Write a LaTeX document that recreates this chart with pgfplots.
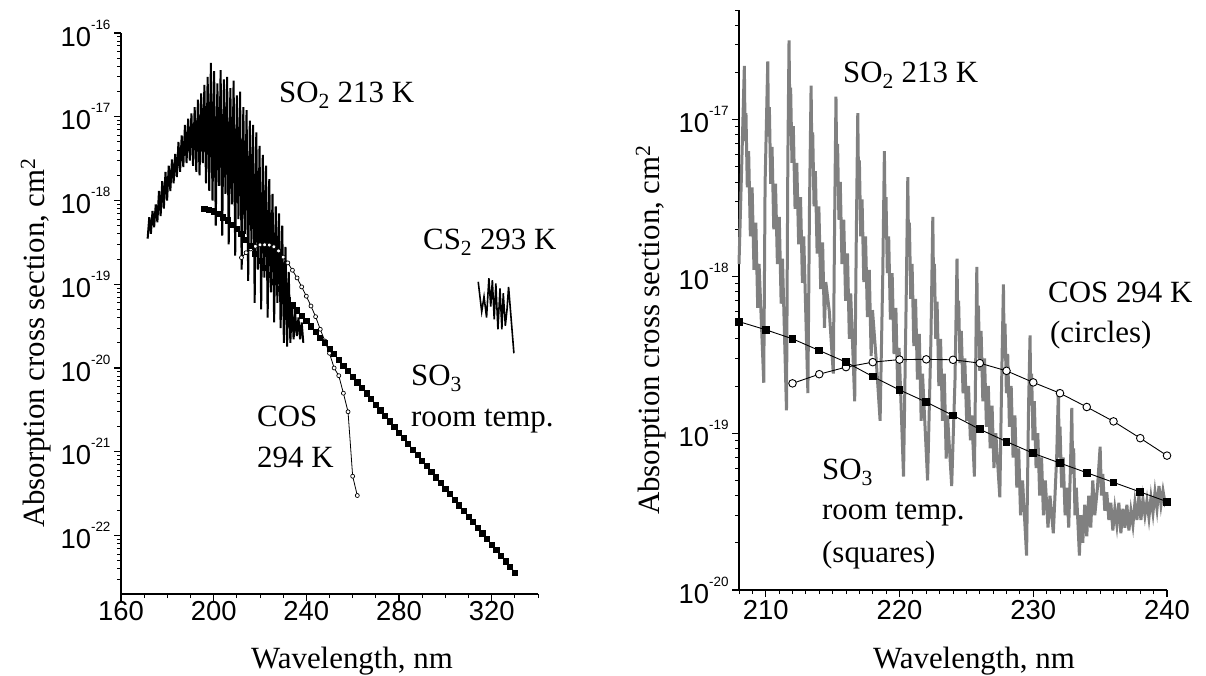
\documentclass[border=0pt]{standalone}
\usepackage{fontspec}
\setmainfont{Liberation Serif}
\newfontfamily\arialf{Liberation Sans}
\usepackage{pgfplots}
\usepackage{pgfplotstable}
\pgfplotsset{compat=1.18}
\newcommand{\annot}{\fontsize{31}{43}\selectfont}
\newcommand{\tickf}{\arialf\fontsize{27.5}{27.5}\selectfont}
\newcommand{\tp}[1]{10\raisebox{17bp}{\fontsize{13.5}{13.5}\selectfont #1}}
\definecolor{sogray}{RGB}{128,128,128}

\pgfplotsset{
  mypanel/.style={
    scale only axis, clip=false,
    axis x line*=bottom, axis y line*=left,
    axis line style={-, line width=1.4bp, black},
    tick align=outside,
    major tick length=7bp, minor tick length=4bp,
    every tick/.style={black, line width=1.2bp},
    every minor tick/.style={black, line width=1bp},
    tick label style={font=\tickf},
  }
}

\pgfplotstableread{
x y
196 8.0e-19
198 7.8e-19
200 7.4e-19
202 6.9e-19
204 6.3e-19
206 5.8e-19
208 5.15e-19
210 4.57e-19
212 4.0e-19
214 3.37e-19
216 2.84e-19
218 2.30e-19
220 1.89e-19
222 1.58e-19
224 1.30e-19
226 1.06e-19
228 8.84e-20
230 7.45e-20
232 6.45e-20
234 5.6e-20
236 4.86e-20
238 4.22e-20
240 3.66e-20
242 3.14e-20
244 2.69e-20
246 2.31e-20
248 1.98e-20
250 1.70e-20
252 1.46e-20
254 1.25e-20
256 1.07e-20
258 9.17e-21
260 7.86e-21
262 6.74e-21
264 5.78e-21
266 4.96e-21
268 4.25e-21
270 3.64e-21
272 3.12e-21
274 2.68e-21
276 2.30e-21
278 1.97e-21
280 1.69e-21
282 1.45e-21
284 1.24e-21
286 1.06e-21
288 9.12e-22
290 7.83e-22
292 6.71e-22
294 5.75e-22
296 4.93e-22
298 4.23e-22
300 3.63e-22
302 3.11e-22
304 2.67e-22
306 2.29e-22
308 1.96e-22
310 1.68e-22
312 1.44e-22
314 1.24e-22
316 1.06e-22
318 9.08e-23
320 7.79e-23
322 6.68e-23
324 5.73e-23
326 4.91e-23
328 4.21e-23
330 3.61e-23
}\sothreedata

\pgfplotstableread{
x y
212 2.08e-19
214 2.38e-19
216 2.64e-19
218 2.84e-19
220 2.95e-19
222 2.96e-19
224 2.94e-19
226 2.80e-19
228 2.50e-19
230 2.11e-19
232 1.80e-19
234 1.47e-19
236 1.19e-19
238 9.3e-20
240 7.2e-20
242 5.5e-20
244 4.1e-20
246 2.9e-20
248 2.1e-20
250 1.5e-20
252 1.0e-20
254 8.1e-21
256 5.0e-21
258 3.0e-21
260 5.1e-22
262 3.0e-22
}\cosdata

\pgfplotstableread{
x y
171.5 3.5e-19
172.2 6.3e-19
172.9 4.0e-19
173.6 7.5e-19
174.3 4.8e-19
175.0 9.0e-19
175.7 5.5e-19
176.4 1.3e-18
177.1 6.5e-19
177.8 1.7e-18
178.5 8.0e-19
179.2 2.2e-18
179.9 1.0e-18
180.6 2.6e-18
181.3 1.3e-18
182.0 3.1e-18
182.7 1.6e-18
183.4 3.6e-18
184.1 1.9e-18
184.8 5.0e-18
185.5 2.2e-18
186.2 6.0e-18
186.9 2.5e-18
187.6 8.0e-18
188.3 2.8e-18
189.0 9.5e-18
189.7 3.0e-18
190.4 1.1e-17
191.1 2.6e-18
191.8 1.3e-17
192.5 2.2e-18
193.2 1.6e-17
193.9 2.0e-18
194.6 1.9e-17
195.3 2.8e-18
196.0 2.4e-17
196.7 1.6e-18
197.4 3.0e-17
198.1 1.3e-18
198.8 4.4e-17
199.5 1.0e-18
200.2 3.5e-17
200.9 5.0e-19
201.6 2.5e-17
202.3 1.5e-18
203.0 3.6e-17
203.7 3.8e-19
204.4 2.8e-17
205.1 1.2e-18
205.8 3.0e-17
206.5 3.0e-19
207.2 2.2e-17
207.9 9.0e-19
208.6 2.7e-17
209.3 2.2e-19
210.0 1.8e-17
210.7 6.0e-19
211.4 2.0e-17
212.1 1.5e-19
212.8 1.3e-17
213.5 4.0e-19
214.2 1.2e-17
214.9 1.1e-19
215.6 9.0e-18
216.3 3.0e-19
217.0 8.0e-18
217.7 6.0e-20
218.4 6.5e-18
219.1 1.5e-19
219.8 4.5e-18
220.5 5.0e-20
221.2 3.5e-18
221.9 1.2e-19
222.6 2.6e-18
223.3 4.0e-20
224.0 1.8e-18
224.7 8.0e-20
225.4 1.2e-18
226.1 3.5e-20
226.8 8.5e-19
227.5 6.0e-20
228.2 7.0e-19
228.9 3.0e-20
229.6 5.0e-19
230.3 2.0e-20
231.0 2.8e-19
231.7 1.8e-20
232.4 1.4e-19
233.1 2.0e-20
233.8 6.0e-20
234.5 2.2e-20
235.2 4.5e-20
235.9 2.4e-20
236.6 4.0e-20
237.3 2.2e-20
238.0 3.5e-20
238.7 2.0e-20
}\sotwoleft

\pgfplotstableread{
x y
314.2 1.07e-19
315.7 4.7e-20
316.7 7.1e-20
317.8 4.0e-20
318.8 1.18e-19
319.6 5.4e-20
320.3 1.12e-19
321.1 3.8e-20
321.8 1.02e-19
322.7 2.9e-20
323.6 8.9e-20
324.4 2.9e-20
325.0 7.8e-20
325.9 3.2e-20
326.6 4.9e-20
327.3 9.3e-20
329.6 1.5e-20
}\cstwodata

\pgfplotstableread{
x y
208.00 1.2e-18
208.20 5.0e-18
208.40 2.2e-17
208.46 7.3e-18
208.52 1.1e-17
208.62 3.7e-18
208.72 6.3e-18
208.85 1.8e-18
208.98 3.7e-18
209.12 1.1e-18
209.26 2.2e-18
209.40 6.3e-19
209.50 1.2e-18
209.85 2.1e-19
209.95 3.9e-18
210.15 2.35e-17
210.21 7.8e-18
210.27 1.2e-17
210.37 3.9e-18
210.47 6.7e-18
210.60 2.0e-18
210.73 3.9e-18
210.87 1.2e-18
211.01 2.4e-18
211.15 6.7e-19
211.25 1.3e-18
211.55 1.4e-19
211.65 5.3e-18
211.74 3.2e-17
211.80 1.07e-17
211.86 1.6e-17
211.96 5.3e-18
212.06 9.1e-18
212.19 2.7e-18
212.32 5.3e-18
212.46 1.6e-18
212.60 3.2e-18
212.74 9.1e-19
212.84 1.8e-18
213.15 1.8e-19
213.27 2.8e-18
213.39 1.65e-17
213.45 5.5e-18
213.51 8.3e-18
213.61 2.8e-18
213.71 4.7e-18
213.84 1.4e-18
213.97 2.8e-18
214.11 8.3e-19
214.25 1.65e-18
214.39 4.7e-19
214.49 9.2e-19
214.75 6.0e-19
215.05 2.4e-19
215.15 2.3e-18
215.25 1.4e-17
215.31 4.7e-18
215.37 7.0e-18
215.47 2.3e-18
215.57 4.0e-18
215.70 1.2e-18
215.83 2.3e-18
215.97 7.0e-19
216.11 1.4e-18
216.25 4.0e-19
216.35 7.8e-19
216.65 1.6e-19
216.77 1.8e-18
216.88 1.1e-17
216.94 3.7e-18
217.00 5.5e-18
217.10 1.8e-18
217.20 3.1e-18
217.33 9.2e-19
217.46 1.8e-18
217.60 5.5e-19
217.74 1.1e-18
217.88 3.1e-19
217.98 6.1e-19
218.25 3.0e-19
218.55 1.2e-19
218.75 1.05e-18
218.87 6.3e-18
218.93 2.1e-18
218.99 3.2e-18
219.09 1.05e-18
219.19 1.8e-18
219.32 5.3e-19
219.45 1.05e-18
219.59 3.2e-19
219.73 6.3e-19
219.87 1.8e-19
219.97 3.5e-19
220.30 5.3e-20
220.50 7.2e-19
220.62 4.3e-18
220.68 1.4e-18
220.74 2.2e-18
220.84 7.2e-19
220.94 1.2e-18
221.07 3.6e-19
221.20 7.2e-19
221.34 2.2e-19
221.48 4.3e-19
221.62 1.2e-19
221.72 2.4e-19
222.10 5.0e-20
222.35 4.0e-19
222.49 2.4e-18
222.55 8.0e-19
222.61 1.2e-18
222.71 4.0e-19
222.81 6.9e-19
222.94 2.0e-19
223.07 4.0e-19
223.21 1.2e-19
223.35 2.4e-19
223.49 6.9e-20
223.59 1.3e-19
223.90 4.6e-20
224.15 2.2e-19
224.30 1.3e-18
224.36 4.5e-19
224.42 7.0e-19
224.52 2.8e-19
224.62 4.5e-19
224.75 1.8e-19
224.88 3.0e-19
225.02 1.2e-19
225.16 2.0e-19
225.30 9.0e-20
225.40 1.3e-19
225.60 5.3e-20
225.70 3.0e-19
225.78 1.15e-18
225.84 4.0e-19
225.90 6.5e-19
226.00 2.5e-19
226.10 4.5e-19
226.23 1.6e-19
226.36 3.0e-19
226.50 1.1e-19
226.64 2.0e-19
226.78 8.0e-20
226.92 1.5e-19
227.06 6.0e-20
227.20 1.0e-19
227.50 3.9e-20
227.65 2.5e-19
227.77 8.9e-19
227.83 3.0e-19
227.89 5.0e-19
227.99 1.8e-19
228.09 3.2e-19
228.22 1.1e-19
228.35 2.0e-19
228.49 7.0e-20
228.63 1.3e-19
228.77 4.5e-20
228.91 8.0e-20
229.05 3.0e-20
229.20 5.0e-20
229.50 1.66e-20
229.65 1.5e-19
229.76 4.2e-19
229.82 1.5e-19
229.88 2.4e-19
229.98 9.0e-20
230.08 1.6e-19
230.21 6.0e-20
230.34 1.0e-19
230.48 4.0e-20
230.62 7.0e-20
230.76 3.0e-20
230.90 5.0e-20
231.10 2.5e-20
231.25 4.0e-20
231.50 2.3e-20
231.75 7.0e-20
231.88 1.9e-19
231.94 7.0e-20
232.00 1.1e-19
232.12 4.5e-20
232.24 7.0e-20
232.38 3.0e-20
232.52 4.5e-20
232.65 2.5e-20
232.78 6.0e-20
232.88 1.45e-19
232.95 5.5e-20
233.02 8.0e-20
233.12 3.0e-20
233.22 4.5e-20
233.45 1.66e-20
233.55 3.0e-20
233.70 2.0e-20
233.85 3.5e-20
234.00 2.2e-20
234.15 4.0e-20
234.30 2.5e-20
234.45 5.0e-20
234.60 3.0e-20
234.80 4.5e-20
235.00 8.2e-20
235.10 4.0e-20
235.20 5.5e-20
235.35 3.2e-20
235.50 4.2e-20
235.65 2.8e-20
235.80 3.6e-20
235.95 2.4e-20
236.10 3.3e-20
236.25 2.6e-20
236.40 3.6e-20
236.55 2.3e-20
236.70 3.3e-20
236.85 2.5e-20
237.00 3.5e-20
237.15 2.4e-20
237.30 3.2e-20
237.45 2.6e-20
237.60 3.6e-20
237.75 2.8e-20
237.90 4.0e-20
238.05 2.8e-20
238.20 3.8e-20
238.35 3.0e-20
238.50 3.7e-20
238.65 2.9e-20
238.80 3.9e-20
238.95 3.1e-20
239.10 4.2e-20
239.25 3.3e-20
239.40 4.6e-20
239.55 3.5e-20
239.70 4.3e-20
239.85 3.6e-20
240.00 3.8e-20
}\sotworight

\begin{document}
\begin{tikzpicture}
\useasboundingbox (0,0) rectangle (1206bp,676bp);
% ---------------- left panel ----------------
\begin{axis}[mypanel, ymode=log,
  at={(121bp,82bp)}, anchor=south west,
  width=417bp, height=561bp,
  xmin=160, xmax=340, ymin=2e-23, ymax=1e-16,
  xtick={160,200,240,280,320},
  xticklabels={160,200,240,280,320},
  xticklabel style={yshift=3bp},
  minor xtick={170,180,190,210,220,230,250,260,270,290,300,310,330,340},
  ytick={1e-22,1e-21,1e-20,1e-19,1e-18,1e-17,1e-16},
  yticklabels={\tp{-22},\tp{-21},\tp{-20},\tp{-19},\tp{-18},\tp{-17},\tp{-16}},
  minor ytick={3e-23,4e-23,5e-23,6e-23,7e-23,8e-23,9e-23,
    2e-22,3e-22,4e-22,5e-22,6e-22,7e-22,8e-22,9e-22,
    2e-21,3e-21,4e-21,5e-21,6e-21,7e-21,8e-21,9e-21,
    2e-20,3e-20,4e-20,5e-20,6e-20,7e-20,8e-20,9e-20,
    2e-19,3e-19,4e-19,5e-19,6e-19,7e-19,8e-19,9e-19,
    2e-18,3e-18,4e-18,5e-18,6e-18,7e-18,8e-18,9e-18,
    2e-17,3e-17,4e-17,5e-17,6e-17,7e-17,8e-17,9e-17},
]
\addplot[black, line width=0.8bp, mark=*, mark size=2bp, mark options={fill=white, line width=0.7bp}] table[x=x,y=y] {\cosdata};
\addplot[black, line width=0.8bp, mark=square*, mark size=2.6bp, mark options={fill=black}] table[x=x,y=y] {\sothreedata};
\addplot[black, line width=2bp] table[x=x,y=y] {\sotwoleft};
\addplot[black, line width=1.6bp] table[x=x,y=y] {\cstwodata};
\end{axis}
% ---------------- right panel ----------------
\begin{axis}[mypanel, ymode=log,
  at={(739bp,86bp)}, anchor=south west,
  width=428bp, height=580bp,
  xmin=208, xmax=240, ymin=1e-20, ymax=5e-17,
  xtick={210,220,230,240},
  xticklabels={210,220,230,240},
  minor xtick={208,209,211,212,213,214,215,216,217,218,219,221,222,223,224,225,226,227,228,229,231,232,233,234,235,236,237,238,239},
  ytick={1e-20,1e-19,1e-18,1e-17},
  yticklabels={\tp{-20},\tp{-19},\tp{-18},\tp{-17}},
  minor ytick={2e-20,3e-20,4e-20,5e-20,6e-20,7e-20,8e-20,9e-20,
    2e-19,3e-19,4e-19,5e-19,6e-19,7e-19,8e-19,9e-19,
    2e-18,3e-18,4e-18,5e-18,6e-18,7e-18,8e-18,9e-18,
    2e-17,3e-17,4e-17,5e-17},
]
\addplot[sogray, line width=3bp] table[x=x,y=y] {\sotworight};
\addplot[black, line width=0.9bp, mark=*, mark size=3.8bp, mark options={fill=white, line width=0.9bp}, restrict x to domain=208:240] table[x=x,y=y] {\cosdata};
\addplot[black, line width=0.9bp, mark=square*, mark size=3.4bp, mark options={fill=black}, restrict x to domain=208:240] table[x=x,y=y] {\sothreedata};
\end{axis}
% ---------------- labels ----------------
\node[rotate=90, anchor=base, inner sep=0pt] at (44bp,333bp) {\annot Absorption cross section, cm\textsuperscript{2}};
\node[rotate=90, anchor=base, inner sep=0pt] at (659bp,346bp) {\annot Absorption cross section, cm\textsuperscript{2}};
\node[anchor=base, inner sep=0pt] at (352bp,8bp) {\annot Wavelength, nm};
\node[anchor=base, inner sep=0pt] at (974bp,8bp) {\annot Wavelength, nm};
% annotations left
\node[anchor=base west, inner sep=0pt] at (279bp,573bp) {\annot SO\textsubscript{2} 213 K};
\node[anchor=base west, inner sep=0pt] at (423bp,426bp) {\annot CS\textsubscript{2} 293 K};
\node[anchor=base west, inner sep=0pt] at (257bp,249bp) {\annot COS};
\node[anchor=base west, inner sep=0pt] at (257bp,208bp) {\annot 294 K};
\node[anchor=base west, inner sep=0pt] at (411bp,290bp) {\annot SO\textsubscript{3}};
\node[anchor=base west, inner sep=0pt] at (411bp,249bp) {\annot room temp.};
% annotations right
\node[anchor=base west, inner sep=0pt] at (843bp,593bp) {\annot SO\textsubscript{2} 213 K};
\node[anchor=base west, inner sep=0pt] at (1048bp,373bp) {\annot COS 294 K};
\node[anchor=base west, inner sep=0pt] at (1050bp,333bp) {\annot (circles)};
\node[anchor=base west, inner sep=0pt] at (822bp,196bp) {\annot SO\textsubscript{3}};
\node[anchor=base west, inner sep=0pt] at (822bp,156bp) {\annot room temp.};
\node[anchor=base west, inner sep=0pt] at (822bp,113bp) {\annot (squares)};
\end{tikzpicture}
\end{document}
